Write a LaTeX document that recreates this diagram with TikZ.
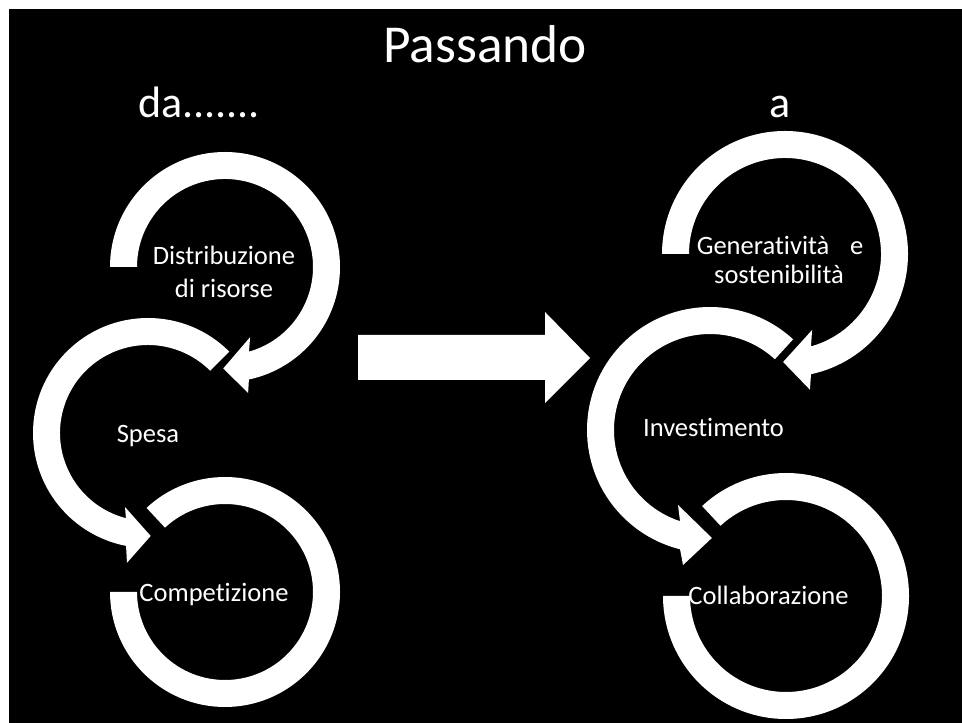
\documentclass[tikz,border=0pt]{standalone}
\usepackage{fontspec}
\setmainfont{Carlito}[Ligatures=NoCommon]
\begin{document}
\begin{tikzpicture}[x=0.75pt,y=0.75pt,
  band/.style={fill=white},
  lbl/.style={text=white, inner sep=0pt, anchor=base,
    font=\fontsize{19.9}{24}\selectfont},
  head/.style={text=white, inner sep=0pt, anchor=base},
]
\useasboundingbox (0,0) rectangle (962,723);
\fill[white] (0,0) rectangle (962,723);
\fill[black] (9,0) rectangle (962,714);

% ---------- left column ----------
% closing ring (drawn first, lies underneath)
\begin{scope}[shift={(225,131)}]
  \fill[band] (180:115) arc[start angle=180,end angle=493,radius=115]
    -- (493:88) arc[start angle=493,end angle=180,radius=88] -- cycle;
\end{scope}
% middle arrow, counter-clockwise
\begin{scope}[shift={(148,290)}]
  \fill[band] (45:115) arc[start angle=45,end angle=259,radius=115]
    -- (260.8:131.5) -- (271.5:103) -- (252.7:77.5)
    -- (255.5:88) arc[start angle=255.5,end angle=45,radius=88] -- cycle;
\end{scope}
% top arrow, clockwise
\begin{scope}[shift={(225,456)}]
  \fill[band] (180:115) arc[start angle=180,end angle=-78,radius=115]
    -- (-79.6:128) -- (-91:101.5) -- (-70.3:74.5)
    -- (-74.2:88) arc[start angle=-74.2,end angle=180,radius=88] -- cycle;
\end{scope}

% ---------- right column ----------
\begin{scope}[shift={(786,127)}]
  \fill[band] (180:123) arc[start angle=180,end angle=493,radius=123]
    -- (493:96) arc[start angle=493,end angle=180,radius=96] -- cycle;
\end{scope}
\begin{scope}[shift={(710,293)}]
  \fill[band] (47.5:123) arc[start angle=47.5,end angle=255.9,radius=123]
    -- (258.7:137.7) -- (271:108) -- (246.9:81.5)
    -- (251.8:96) arc[start angle=251.8,end angle=47.5,radius=96] -- cycle;
\end{scope}
\begin{scope}[shift={(785,469)}]
  \fill[band] (180:123) arc[start angle=180,end angle=-77.8,radius=123]
    -- (-79.6:138) -- (-91:108) -- (-70.4:80.7)
    -- (-74.3:96) arc[start angle=-74.3,end angle=180,radius=96] -- cycle;
\end{scope}

% ---------- central block arrow ----------
\fill[band] (358,388) -- (545,388) -- (545,411) -- (590,365)
  -- (545,320) -- (545,343) -- (358,343) -- cycle;

% ---------- texts ----------
\node[head, font=\fontsize{40}{48}\selectfont] (title) at (485,660) {Passando};
\node[head, font=\fontsize{33}{40}\selectfont, anchor=base west] (from) at (138,605) {da.......};
\node[head, font=\fontsize{33}{40}\selectfont] (to) at (780,605) {a};

\node[lbl] (distr1) at (224,458) {Distribuzione};
\node[lbl] (distr2) at (224,425) {di risorse};
\node[lbl] (spesa) at (148,280) {Spesa};
\node[lbl] (comp) at (214,121) {Competizione};

\node[lbl] (gen1) at (780,468) {Generatività\hspace{15.5pt}e};
\node[lbl] (gen2) at (779,439) {sostenibilità};
\node[lbl] (inv) at (713.5,286) {Investimento};
\node[lbl] (coll) at (768.5,118) {Collaborazione};
\end{tikzpicture}
\end{document}
